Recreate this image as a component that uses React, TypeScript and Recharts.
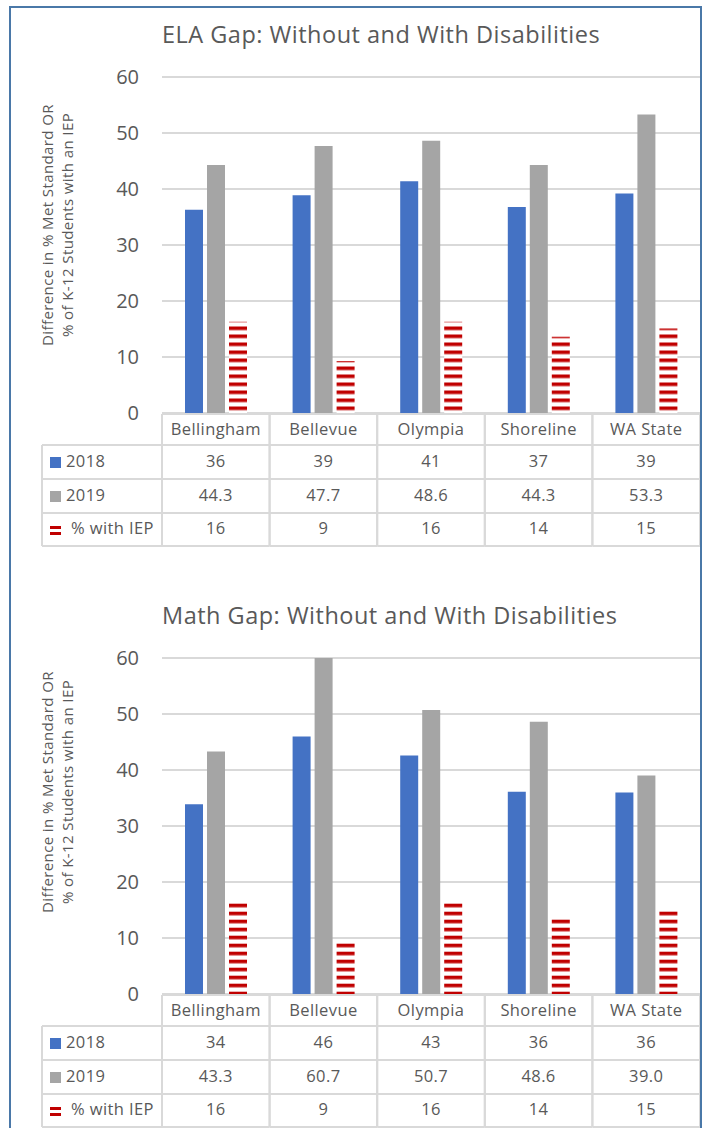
import React from "react";
import { BarChart, Bar, XAxis, YAxis, CartesianGrid } from "recharts";

const categories = ["Bellingham", "Bellevue", "Olympia", "Shoreline", "WA State"];
const ela2018 = [36.3, 38.9, 41.4, 36.8, 39.2];
const ela2019 = [44.3, 47.7, 48.6, 44.3, 53.3];
const math2018 = [33.9, 46.0, 42.6, 36.1, 36.0];
const math2019 = [43.3, 60.7, 50.7, 48.6, 39.0];
const iepPct = [16.3, 9.3, 16.3, 13.6, 15.1];
const yTicks = [0, 10, 20, 30, 40, 50, 60];
const seriesNames = ["2018", "2019", "% with IEP"];
const seriesDigits = [0, 1, 0];
const axisTitle = ["Difference in % Met Standard OR", "% of K-12 Students with an IEP"];

const W = 708;
const PLOT_LEFT = 162;
const PLOT_RIGHT = 700;
const COL = (PLOT_RIGHT - PLOT_LEFT) / categories.length;
const TEXT = "#595959";
const LINE = "#d9d9d9";
const BLUE = "#4472C4";
const GREY = "#A5A5A5";
const RED = "#C00000";
// row boundaries of the data table, relative to the bottom of the plot
const rowEdges = [1, 32, 66, 100, 133];
const rowBase = [22, 54, 88, 121];
const cellFont = { fontSize: 16.5, letterSpacing: 0.4 };

function TableColumn(props: any) {
  const { x, y, payload, index, rows } = props;
  const left = x - COL / 2;
  const right = x + COL / 2;
  const ys = rowEdges.map((r) => y + r);
  const bottom = ys[ys.length - 1];
  return (
    <g>
      {ys.map((yy, i) => (
        <line key={i} x1={left} x2={right} y1={yy} y2={yy} stroke={LINE} strokeWidth={2} />
      ))}
      <line x1={left} x2={left} y1={ys[0]} y2={bottom} stroke={LINE} strokeWidth={2} />
      <line x1={right} x2={right} y1={ys[0]} y2={bottom} stroke={LINE} strokeWidth={2} />
      <text x={x} y={y + rowBase[0]} textAnchor="middle" fill={TEXT} style={cellFont}>
        {payload.value}
      </text>
      {rows.map((r: number[], i: number) => (
        <text key={i} x={x} y={y + rowBase[i + 1]} textAnchor="middle" fill={TEXT} style={cellFont}>
          {r[index].toFixed(seriesDigits[i])}
        </text>
      ))}
      {index === 0 && (
        <g>
          {ys.slice(1).map((yy, i) => (
            <line key={i} x1={42} x2={left} y1={yy} y2={yy} stroke={LINE} strokeWidth={2} />
          ))}
          <line x1={42} x2={42} y1={ys[1]} y2={bottom} stroke={LINE} strokeWidth={2} />
          <rect x={50} y={ys[1] + 12} width={11} height={11} fill={BLUE} />
          <rect x={50} y={ys[2] + 12} width={11} height={11} fill={GREY} />
          <rect x={50} y={ys[3] + 13} width={11} height={3} fill={RED} />
          <rect x={50} y={ys[3] + 19} width={11} height={3} fill={RED} />
          {seriesNames.map((n, i) => (
            <text key={n} x={i === 2 ? 71 : 66} y={y + rowBase[i + 1]} fill={TEXT} style={cellFont}>
              {n}
            </text>
          ))}
        </g>
      )}
    </g>
  );
}

function AxisTitle({ cy }: { cy: number }) {
  return (
    <g>
      {axisTitle.map((t, i) => (
        <text
          key={i}
          x={53 + i * 20}
          y={cy}
          transform={`rotate(-90, ${53 + i * 20}, ${cy})`}
          textAnchor="middle"
          fill={TEXT}
          style={{ fontSize: 15, letterSpacing: 0.4 }}
        >
          {t}
        </text>
      ))}
    </g>
  );
}

function Panel({ title, top, v2018, v2019, labelY, pid, patY }: any) {
  const data = categories.map((c, i) => ({
    name: c,
    y2018: v2018[i],
    y2019: v2019[i],
    iep: iepPct[i],
  }));
  const rows = [v2018, v2019, iepPct];
  return (
    <div style={{ position: "absolute", left: 0, top, width: W, height: 555 }}>
      <BarChart
        width={W}
        height={555}
        data={data}
        margin={{ top: 77, right: W - PLOT_RIGHT, left: PLOT_LEFT - 40, bottom: 0 }}
        barSize={18}
        barGap={4}
      >
        <defs>
          <pattern id={pid} patternUnits="userSpaceOnUse" width={8} height={8} y={patY}>
            <rect width={8} height={8} fill="#fff" />
            <rect width={8} height={3.6} fill={RED} />
          </pattern>
        </defs>
        <CartesianGrid vertical={false} stroke={LINE} strokeWidth={2} />
        <XAxis
          dataKey="name"
          height={142}
          axisLine={false}
          tickLine={false}
          tickSize={0}
          tickMargin={0}
          interval={0}
          tick={(p: any) => <TableColumn {...p} rows={rows} />}
        />
        <YAxis
          domain={[0, 60]}
          ticks={yTicks}
          allowDataOverflow
          width={40}
          axisLine={false}
          tickLine={false}
          tickSize={0}
          tickMargin={23}
          tick={{ fill: TEXT, fontSize: 20 }}
          label={<AxisTitle cy={labelY} />}
        />
        <Bar dataKey="y2018" fill={BLUE} isAnimationActive={false} />
        <Bar dataKey="y2019" fill={GREY} isAnimationActive={false} />
        <Bar dataKey="iep" fill={`url(#${pid})`} isAnimationActive={false} />
      </BarChart>
      <svg style={{ position: "absolute", left: 0, top: 0 }} width={W} height={60}>
        <text x={PLOT_LEFT} y={43} fill={TEXT} style={{ fontSize: 23.5, letterSpacing: 0.5 }}>
          {title}
        </text>
      </svg>
    </div>
  );
}

export default function App() {
  return (
    <div
      style={{
        position: "absolute",
        left: 0,
        top: 0,
        width: W,
        height: 1128,
        overflow: "hidden",
        background: "#fff",
        fontFamily: "'Open Sans', sans-serif",
      }}
    >
      <Panel title="ELA Gap: Without and With Disabilities" top={0} v2018={ela2018} v2019={ela2019} labelY={225} pid="iepEla" patY={6.5} />
      <Panel title="Math Gap: Without and With Disabilities" top={581} v2018={math2018} v2019={math2019} labelY={211} pid="iepMath" patY={2.7} />
      <div
        style={{
          position: "absolute",
          left: 9,
          top: 6,
          width: 693,
          height: 1200,
          boxSizing: "border-box",
          border: "2px solid #4a78a8",
          borderBottom: "none",
          pointerEvents: "none",
        }}
      />
    </div>
  );
}
